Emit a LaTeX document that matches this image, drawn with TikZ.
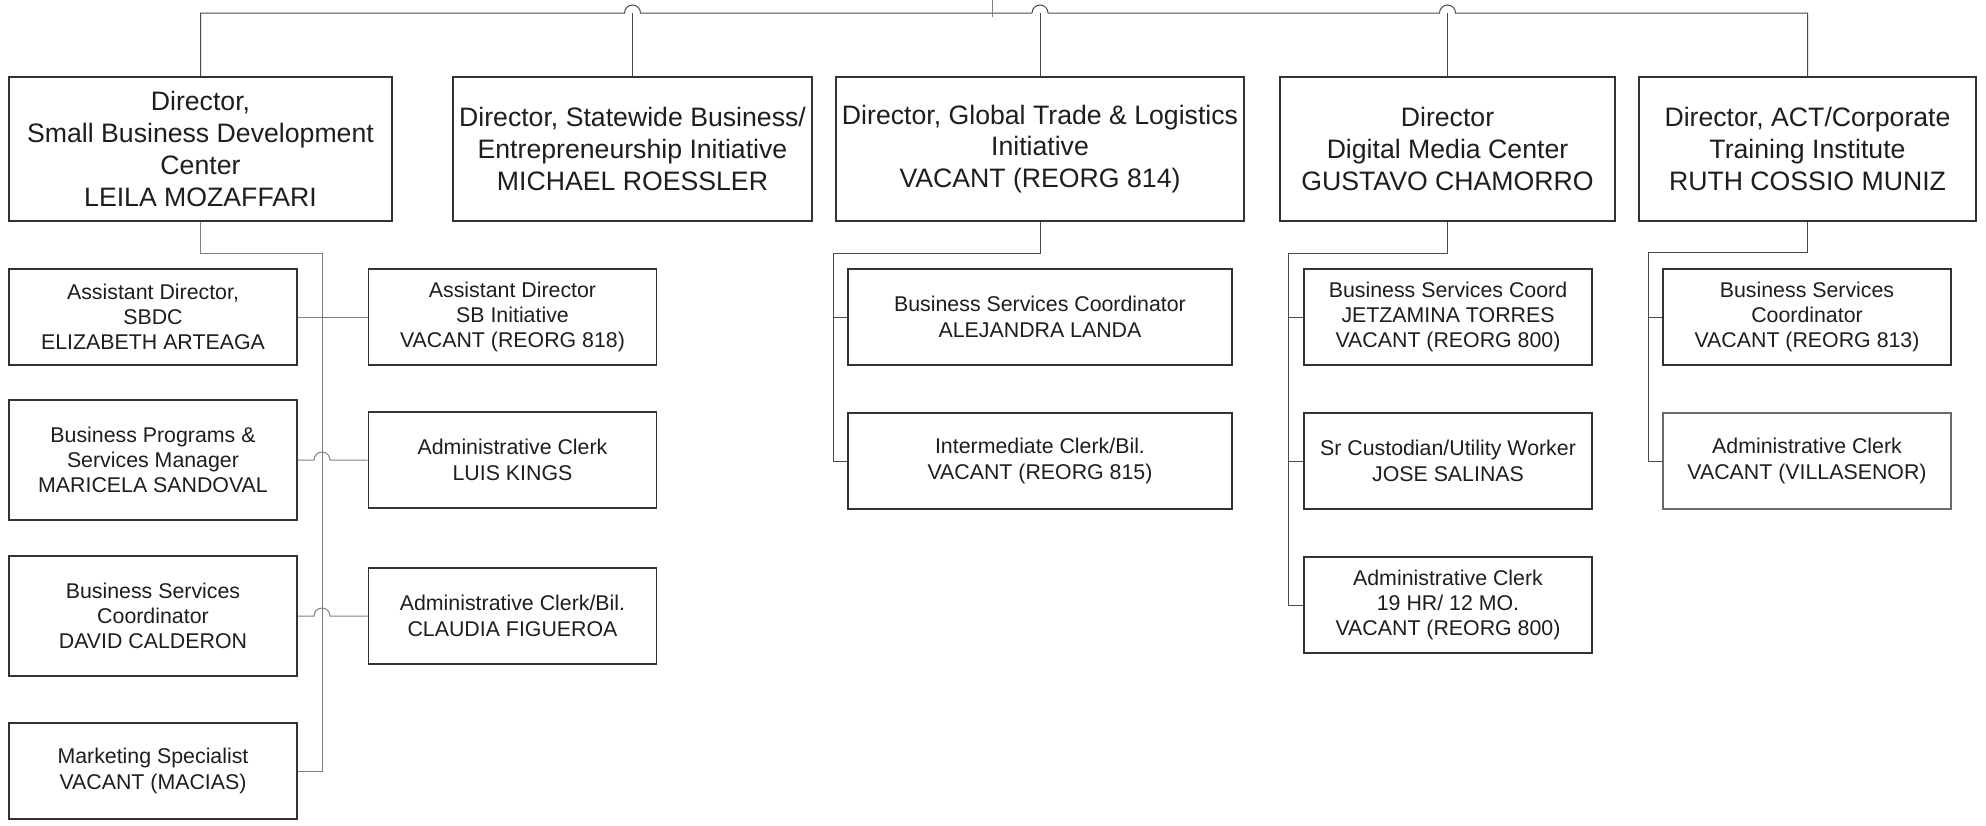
\documentclass[tikz,border=0pt]{standalone}
\usepackage{fontspec}
\setmainfont{Liberation Sans}
\definecolor{bord}{HTML}{333333}
\definecolor{lbord}{HTML}{6A6A6A}
\definecolor{conn}{HTML}{4A4A4A}
\definecolor{lconn}{HTML}{808080}
\definecolor{txt}{HTML}{1E1E1E}
\begin{document}
\begin{tikzpicture}[x=0.5pt,y=-0.5pt,
  box/.style={draw=bord,line width=0.8pt,fill=white,align=center,inner sep=1pt,text=txt},
  topbox/.style={box,minimum height=72pt,font=\fontsize{13.33pt}{15.85pt}\selectfont},
  subbox/.style={box,minimum width=144pt,font=\fontsize{10.67pt}{12.65pt}\selectfont},
  cline/.style={draw=conn,line width=0.5pt},
  lline/.style={draw=lconn,line width=0.5pt}]
\useasboundingbox (0,0) rectangle (1986,825);

% top-level directors
\node[topbox,minimum width=191.5pt] (d1) at (200.5,149) {Director,\\Small Business Development\\Center\\LEILA MOZAFFARI};
\node[topbox,minimum width=179.5pt] (d2) at (632.5,149) {Director, Statewide Business/\\Entrepreneurship Initiative\\MICHAEL ROESSLER};
\node[topbox,minimum width=204pt] (d3) at (1040,149) {Director, Global Trade \& Logistics\\Initiative\\VACANT (REORG 814)};
\node[topbox,minimum width=167.5pt] (d4) at (1447.5,149) {Director\\Digital Media Center\\GUSTAVO CHAMORRO};
\node[topbox,minimum width=168.5pt] (d5) at (1807.5,149) {Director, ACT/Corporate\\Training Institute\\RUTH COSSIO MUNIZ};

% SBDC staff
\node[subbox,minimum height=48pt] (a1) at (153,317) {Assistant Director,\\SBDC\\ELIZABETH ARTEAGA};
\node[subbox,minimum height=60pt] (a2) at (153,460) {Business Programs \&\\Services Manager\\MARICELA SANDOVAL};
\node[subbox,minimum height=60pt] (a3) at (153,616) {Business Services\\Coordinator\\DAVID CALDERON};
\node[subbox,minimum height=48pt] (a4) at (153,771) {Marketing Specialist\\VACANT (MACIAS)};
\node[subbox,minimum height=48pt] (b1) at (512.5,317) {Assistant Director\\SB Initiative\\VACANT (REORG 818)};
\node[subbox,minimum height=48pt] (b2) at (512.5,460) {Administrative Clerk\\LUIS KINGS};
\node[subbox,minimum height=48pt] (b3) at (512.5,616) {Administrative Clerk/Bil.\\CLAUDIA FIGUEROA};

% Global trade staff
\node[subbox,minimum width=192pt,minimum height=48pt] (c1) at (1040,317) {Business Services Coordinator\\ALEJANDRA LANDA};
\node[subbox,minimum width=192pt,minimum height=48pt] (c2) at (1040,461) {Intermediate Clerk/Bil.\\VACANT (REORG 815)};

% Digital media staff
\node[subbox,minimum height=48pt] (e1) at (1448,317) {Business Services Coord\\JETZAMINA TORRES\\VACANT (REORG 800)};
\node[subbox,minimum height=48pt] (e2) at (1448,461) {Sr Custodian/Utility Worker\\JOSE SALINAS};
\node[subbox,minimum height=48pt] (e3) at (1448,605) {Administrative Clerk\\19 HR/ 12 MO.\\VACANT (REORG 800)};

% ACT staff
\node[subbox,minimum height=48pt] (f1) at (1807,317) {Business Services\\Coordinator\\VACANT (REORG 813)};
\node[subbox,minimum height=48pt,draw=lbord,line width=0.6pt] (f2) at (1807,461) {Administrative Clerk\\VACANT (VILLASENOR)};

% top connector with line hops
\coordinate (top) at (992,0);
\coordinate (tl) at (992,13);
\draw[cline] (d1.north) -- (d1.north |- tl)
  -- ([xshift=-4pt]d2.north |- tl) arc[start angle=180,end angle=0,radius=4pt]
  -- ([xshift=-4pt]d3.north |- tl) arc[start angle=180,end angle=0,radius=4pt]
  -- ([xshift=-4pt]d4.north |- tl) arc[start angle=180,end angle=0,radius=4pt]
  -- (d5.north |- tl) -- (d5.north);
\draw[cline] (d2.north) -- (d2.north |- tl);
\draw[cline] (d3.north) -- (d3.north |- tl);
\draw[cline] (d4.north) -- (d4.north |- tl);
\draw[lline] (top) -- ([yshift=-2pt]tl);

% SBDC connectors
\coordinate (k1) at (322,253);
\draw[lline] (d1.south) |- (k1) |- (a4.east);
\draw[lline] (a1.east) -- (b1.west);
\draw[lline] (a2.east) -- ([xshift=-4pt]k1 |- a2.east) arc[start angle=180,end angle=0,radius=4pt] -- (b2.west);
\draw[lline] (a3.east) -- ([xshift=-4pt]k1 |- a3.east) arc[start angle=180,end angle=0,radius=4pt] -- (b3.west);

% Global trade connectors
\coordinate (k3) at (833,253);
\draw[cline] (d3.south) |- (k3) |- (c2.west);
\draw[cline] (k3 |- c1.west) -- (c1.west);

% Digital media connectors
\coordinate (k4) at (1288,253);
\draw[cline] (d4.south) |- (k4) |- (e3.west);
\draw[cline] (k4 |- e1.west) -- (e1.west);
\draw[cline] (k4 |- e2.west) -- (e2.west);

% ACT connectors
\coordinate (k5) at (1648,252);
\draw[cline] (d5.south) |- (k5) |- (f2.west);
\draw[cline] (k5 |- f1.west) -- (f1.west);
\end{tikzpicture}
\end{document}
